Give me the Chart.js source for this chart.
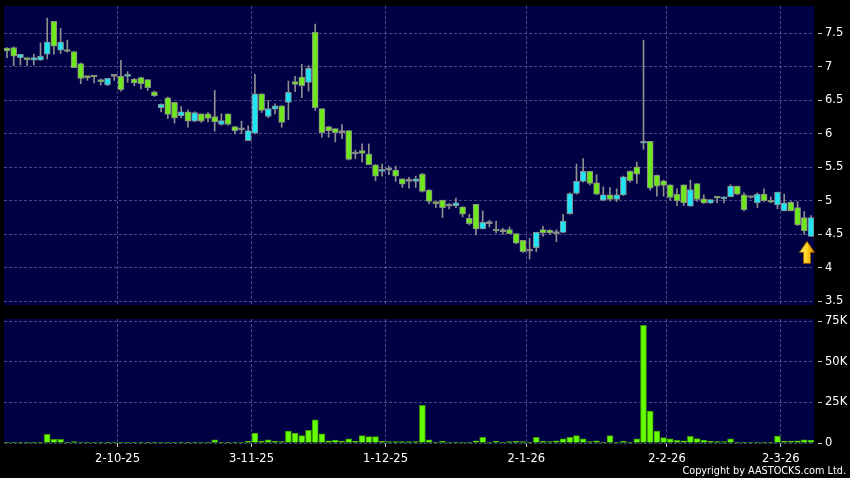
<!DOCTYPE html>
<html>
<head>
<meta charset="utf-8">
<script src="https://cdn.jsdelivr.net/npm/chart.js@4.4.1/dist/chart.umd.min.js"></script>
<style>
html,body{margin:0;padding:0;background:#000;}
#wrap{position:relative;width:850px;height:478px;overflow:hidden;background:#000;}
#cPrice{position:absolute;left:0;top:0;}
#cVol{position:absolute;left:0;top:312px;}
#copy{position:absolute;right:4px;top:464px;color:#fff;font:10.8px 'DejaVu Sans Condensed','DejaVu Sans',sans-serif;white-space:nowrap;}
</style>
</head>
<body>
<div id="wrap">
  <canvas id="cPrice" width="850" height="312"></canvas>
  <canvas id="cVol" width="850" height="166"></canvas>
  <div id="copy">Copyright by AASTOCKS.com Ltd.</div>
</div>
<script>
// daily candles, oldest first
const open = [
  7.28,7.29,7.14,7.13,7.10,7.10,7.19,7.68,7.25,7.25,
  7.23,7.05,6.85,6.87,6.80,6.73,6.86,6.86,6.86,6.82,
  6.84,6.81,6.63,6.39,6.54,6.47,6.27,6.33,6.19,6.30,
  6.30,6.26,6.14,6.30,6.11,6.06,5.90,6.01,6.60,6.26,
  6.37,6.42,6.47,6.78,6.85,6.77,7.52,6.38,6.11,6.08,
  6.02,6.05,5.70,5.75,5.70,5.54,5.44,5.46,5.46,5.33,
  5.29,5.29,5.40,5.16,4.98,5.01,4.92,4.93,4.91,4.74,
  4.95,4.58,4.66,4.57,4.54,4.57,4.51,4.41,4.25,4.30,
  4.57,4.56,4.51,4.53,4.81,5.11,5.29,5.44,5.27,5.01,
  5.09,5.02,5.09,5.44,5.51,5.86,5.89,5.38,5.30,5.24,
  5.10,5.24,4.92,5.26,5.03,4.97,5.05,5.03,5.06,5.22,
  5.09,5.05,4.97,5.10,5.00,4.94,4.85,4.98,4.90,4.75,
  4.47];
const high = [
  7.29,7.30,7.19,7.13,7.19,7.36,7.73,7.68,7.58,7.40,
  7.23,7.06,6.86,6.87,6.82,6.83,6.86,7.10,6.93,6.83,
  6.85,6.81,6.64,6.45,6.55,6.47,6.41,6.36,6.33,6.30,
  6.32,6.65,6.30,6.30,6.11,6.19,6.12,6.89,6.60,6.50,
  6.45,6.42,6.79,6.86,7.04,7.02,7.64,6.38,6.11,6.08,
  6.14,6.05,5.76,5.85,5.85,5.54,5.55,5.52,5.52,5.33,
  5.35,5.37,5.41,5.17,4.98,5.01,4.96,5.04,4.91,4.80,
  4.95,4.85,4.71,4.70,4.59,4.61,4.51,4.41,4.44,4.53,
  4.62,4.57,4.57,4.80,5.12,5.55,5.63,5.44,5.39,5.21,
  5.20,5.18,5.37,5.45,5.58,7.40,5.89,5.39,5.31,5.24,
  5.18,5.24,5.31,5.26,5.09,5.02,5.06,5.06,5.24,5.22,
  5.12,5.06,5.12,5.18,5.06,5.13,5.10,4.99,4.99,4.84,
  4.78];
const low = [
  7.14,7.02,7.03,7.02,7.03,7.10,7.12,7.19,7.20,7.22,
  6.99,6.75,6.80,6.76,6.73,6.72,6.80,6.64,6.77,6.72,
  6.67,6.65,6.56,6.33,6.23,6.16,6.24,6.10,6.18,6.17,
  6.18,6.04,6.13,6.13,6.00,6.00,5.90,6.00,6.32,6.24,
  6.30,6.10,6.21,6.63,6.54,6.64,6.35,5.95,5.95,5.88,
  5.93,5.61,5.63,5.58,5.54,5.30,5.37,5.39,5.29,5.20,
  5.19,5.20,5.13,4.96,4.90,4.75,4.88,4.90,4.76,4.64,
  4.49,4.58,4.61,4.52,4.50,4.51,4.36,4.23,4.13,4.24,
  4.47,4.50,4.39,4.52,4.80,5.10,5.28,5.24,5.09,5.00,
  5.00,4.99,5.08,5.28,5.26,5.77,5.16,5.07,5.07,5.01,
  4.93,4.93,4.92,4.99,4.96,4.96,4.97,4.97,5.06,5.09,
  4.85,5.04,4.90,4.99,4.97,4.88,4.85,4.85,4.63,4.50,
  4.47];
const close = [
  7.24,7.16,7.19,7.11,7.14,7.16,7.37,7.31,7.37,7.23,
  6.99,6.83,6.84,6.85,6.78,6.83,6.86,6.66,6.89,6.76,
  6.75,6.69,6.57,6.44,6.29,6.24,6.33,6.19,6.32,6.19,
  6.23,6.18,6.20,6.14,6.05,6.06,6.05,6.60,6.35,6.38,
  6.42,6.17,6.62,6.74,6.72,6.98,6.39,6.02,6.05,6.02,
  6.02,5.62,5.70,5.71,5.54,5.37,5.47,5.46,5.37,5.25,
  5.29,5.33,5.14,4.99,4.96,4.90,4.92,4.97,4.80,4.66,
  4.58,4.68,4.66,4.55,4.54,4.51,4.37,4.24,4.25,4.53,
  4.52,4.52,4.51,4.70,5.11,5.29,5.44,5.26,5.10,5.09,
  5.02,5.09,5.36,5.30,5.40,5.89,5.19,5.22,5.23,5.05,
  5.00,4.97,5.17,5.02,4.97,5.02,5.04,5.05,5.22,5.10,
  4.87,5.05,5.10,5.00,4.98,5.13,4.97,4.85,4.64,4.55,
  4.75];
// volume, thousands of shares
const volK = [
  0.4,0.6,0.4,0.4,0.4,0.4,5.3,2.3,2.3,0.4,
  0.8,0.6,0.1,0.1,0.2,0.1,0.6,0.2,0.2,0.2,
  0.1,0.4,0.4,0.4,0.4,0.4,0.6,0.2,0.1,0.6,
  0.1,2.0,0.1,0.1,0.1,0.6,1.0,6.1,1.2,2.0,
  1.0,0.8,7.4,6.1,4.5,7.8,14.3,5.7,1.4,1.8,
  1.2,2.5,1.0,4.5,3.9,3.9,1.0,0.8,0.8,0.8,
  0.8,0.8,23.2,1.9,0.6,1.2,0.6,0.6,0.6,0.6,
  1.4,3.5,0.6,1.0,0.6,0.8,1.0,0.8,0.6,3.5,
  1.0,0.8,1.4,2.5,3.5,4.5,2.5,0.8,1.4,0.2,
  4.5,0.2,1.0,0.6,2.5,72.5,19.7,7.4,3.3,2.5,
  1.6,1.4,4.1,2.7,1.8,1.0,0.8,0.8,2.5,0.4,
  0.1,0.1,0.6,0.6,0.6,4.3,1.2,1.2,1.4,2.0,
  1.8];
const dateLabels = ['2-10-25','3-11-25','1-12-25','2-1-26','2-2-26','2-3-26'];
const dateIdx = [16, 36, 56, 77, 98, 115];
const priceTicks = [3.5, 4, 4.5, 5, 5.5, 6, 6.5, 7, 7.5];
const volTicks = [0, 25, 50, 75];

const $ = (id) => document.getElementById(id);
const FONT = "'DejaVu Sans', sans-serif";
const GRID = 'rgba(105,105,155,0.7)';
const UP = '#1fe4f4', DOWN = '#6ee81c', FLAT = '#9a9a9a', EDGE = '#8a8a8a';
const N = close.length;
const idx = close.map((_, i) => i);
const bodyColor = idx.map(i => close[i] > open[i] ? UP : close[i] < open[i] ? DOWN : FLAT);
const xMin = -0.45, xMax = N - 1 + 0.45;

const panelBg = { id:'panelBg', beforeDraw(c){
  const a = c.chartArea, ctx = c.ctx;
  ctx.save(); ctx.fillStyle = '#000044'; ctx.fillRect(a.left, a.top, a.right - a.left, a.bottom - a.top); ctx.restore();
}};

// yellow marker under the latest session
const lastArrow = { id:'lastArrow', afterDatasetsDraw(c){
  const ctx = c.ctx, last = N - 1;
  const cx = c.scales.x.getPixelForValue(last) - 4;
  const top = c.scales.y.getPixelForValue(low[last]) + 5;
  const g = ctx.createLinearGradient(cx - 7, 0, cx + 7, 0);
  g.addColorStop(0, '#fff27a'); g.addColorStop(0.5, '#ffd21a'); g.addColorStop(1, '#e09200');
  ctx.save();
  ctx.beginPath();
  ctx.moveTo(cx, top); ctx.lineTo(cx + 7.5, top + 11); ctx.lineTo(cx + 3.5, top + 11);
  ctx.lineTo(cx + 3.5, top + 22); ctx.lineTo(cx - 3.5, top + 22); ctx.lineTo(cx - 3.5, top + 11);
  ctx.lineTo(cx - 7.5, top + 11); ctx.closePath();
  ctx.fillStyle = g; ctx.fill();
  ctx.strokeStyle = '#9a5a00'; ctx.lineWidth = 1; ctx.stroke();
  ctx.restore();
}};

// fixed plot box: no extra padding from the axis labels
const fitY = s => { s.width = 36; s.paddingTop = 0; s.paddingBottom = 0; };
const fitX = h => s => { s.height = h; s.paddingLeft = 0; s.paddingRight = 0; };

const baseOpts = () => ({
  responsive:false, animation:false, events:[],
  plugins:{ legend:{display:false}, tooltip:{enabled:false} }
});

new Chart($('cPrice'), {
  type:'bar',
  data:{ datasets:[
    { data: idx.map(i => ({x:i, y:[low[i], high[i]]})), backgroundColor:'#8f8f8f', barThickness:1, minBarLength:1, grouped:false, order:2 },
    { data: idx.map(i => ({x:i, y:[open[i], close[i]]})), backgroundColor:bodyColor, borderColor:EDGE, borderWidth:1, borderSkipped:false, barThickness:6, minBarLength:2, grouped:false, order:1 }
  ]},
  options:{ ...baseOpts(),
    layout:{ padding:{ left:4, top:6, right:0, bottom:0 } },
    scales:{
      x:{ type:'linear', min:xMin, max:xMax, offset:false,
        afterBuildTicks: s => { s.ticks = dateIdx.map(v => ({value:v + 0.5})); },
        afterFit: fitX(7),
        ticks:{ display:false },
        grid:{ color:GRID, drawTicks:false, offset:false },
        border:{ display:false, dash:[3,2] } },
      y:{ position:'right', min:3.445, max:7.91,
        afterBuildTicks: s => { s.ticks = priceTicks.map(v => ({value:v})); },
        afterFit: fitY,
        ticks:{ color:'#fff', font:{family:FONT, size:11.5}, padding:3, callback: v => String(v) },
        grid:{ color:GRID, tickColor:'#c8c8c8', tickLength:8, tickBorderDash:[0,4,4,0] },
        border:{ display:false, dash:[3,2] } }
    }
  },
  plugins:[panelBg, lastArrow]
});

new Chart($('cVol'), {
  type:'bar',
  data:{ datasets:[
    { data: idx.map(i => ({x:i, y:volK[i]})), backgroundColor:'#66ff00', borderColor:'#3c9a00', borderWidth:1, borderSkipped:'bottom', barThickness:6, grouped:false }
  ]},
  options:{ ...baseOpts(),
    layout:{ padding:{ left:4, top:7, right:0, bottom:0 } },
    scales:{
      x:{ type:'linear', min:xMin, max:xMax, offset:false,
        afterBuildTicks: s => { s.ticks = dateIdx.map(v => ({value:v + 0.5})); },
        afterFit: fitX(35),
        ticks:{ color:'#fff', font:{family:FONT, size:11.5}, padding:5, maxRotation:0, autoSkip:false,
          callback: v => dateLabels[dateIdx.indexOf(v - 0.5)] },
        grid:{ color:GRID, tickColor:'#c8c8c8', tickLength:4, offset:false },
        border:{ display:false, dash:[3,2] } },
      y:{ position:'right', min:0, max:76.4,
        afterBuildTicks: s => { s.ticks = volTicks.map(v => ({value:v})); },
        afterFit: fitY,
        ticks:{ color:'#fff', font:{family:FONT, size:11.5}, padding:3, callback: v => v ? v + 'K' : '0' },
        grid:{ color:GRID, tickColor:'#c8c8c8', tickLength:8, tickBorderDash:[0,4,4,0] },
        border:{ display:false, dash:[3,2] } }
    }
  },
  plugins:[panelBg]
});
</script>
</body>
</html>
